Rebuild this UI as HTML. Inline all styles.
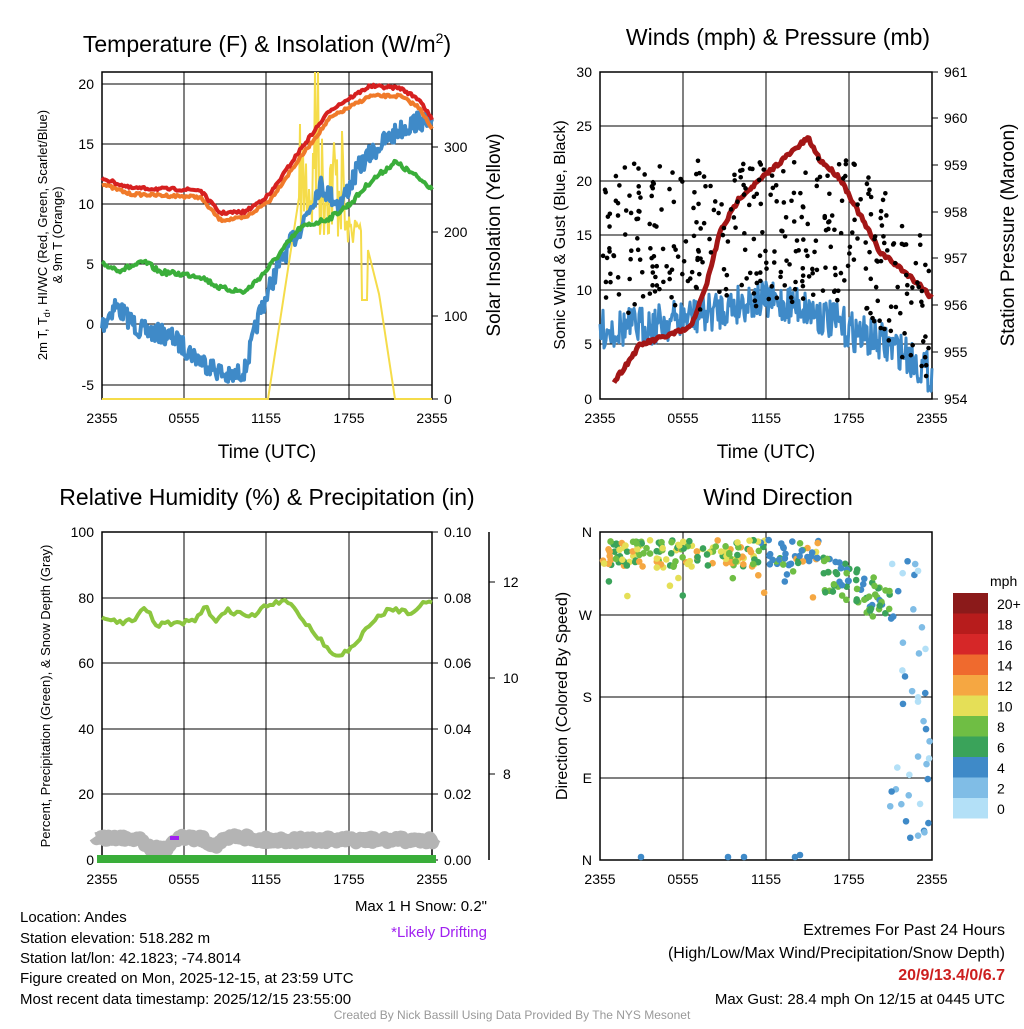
<!DOCTYPE html>
<html><head><meta charset="utf-8"><style>
body{margin:0;background:#fff;width:1024px;height:1024px;overflow:hidden}
svg text{font-family:"Liberation Sans",sans-serif;fill:#000}
</style></head><body>
<svg id="s" width="1024" height="1024" xmlns="http://www.w3.org/2000/svg">
<g id="g"></g>
<text x="267" y="52" font-size="23" text-anchor="middle">Temperature (F) &amp; Insolation (W/m<tspan dy="-9" font-size="14">2</tspan><tspan dy="9">)</tspan></text>
<text x="778" y="45" font-size="23" text-anchor="middle">Winds (mph) &amp; Pressure (mb)</text>
<text x="267" y="505" font-size="23" text-anchor="middle">Relative Humidity (%) &amp; Precipitation (in)</text>
<text x="778" y="505" font-size="23" text-anchor="middle">Wind Direction</text>
<text x="267" y="458" font-size="19" text-anchor="middle">Time (UTC)</text>
<text x="766" y="458" font-size="19" text-anchor="middle">Time (UTC)</text>
<text transform="translate(47,235) rotate(-90)" font-size="13" text-anchor="middle">2m T, T<tspan font-size="9" dy="3">d</tspan><tspan dy="-3">, HI/WC (Red, Green, Scarlet/Blue)</tspan></text>
<text transform="translate(62,235) rotate(-90)" font-size="13" text-anchor="middle">&amp; 9m T (Orange)</text>
<text transform="translate(500,235) rotate(-90)" font-size="19" text-anchor="middle">Solar Insolation (Yellow)</text>
<text transform="translate(565,235) rotate(-90)" font-size="16" text-anchor="middle">Sonic Wind &amp; Gust (Blue, Black)</text>
<text transform="translate(1014,235) rotate(-90)" font-size="19" text-anchor="middle">Station Pressure (Maroon)</text>
<text transform="translate(50,696) rotate(-90)" font-size="13" text-anchor="middle">Percent, Precipitation (Green), &amp; Snow Depth (Gray)</text>
<text transform="translate(567,696) rotate(-90)" font-size="16" text-anchor="middle">Direction (Colored By Speed)</text>
<text x="20" y="922" font-size="15">Location: Andes</text>
<text x="20" y="943" font-size="15">Station elevation: 518.282 m</text>
<text x="20" y="963" font-size="15">Station lat/lon: 42.1823; -74.8014</text>
<text x="20" y="983" font-size="15">Figure created on Mon, 2025-12-15, at 23:59 UTC</text>
<text x="20" y="1004" font-size="15">Most recent data timestamp: 2025/12/15 23:55:00</text>
<text x="487" y="911" font-size="15" text-anchor="end" fill="#333">Max 1 H Snow: 0.2"</text>
<text x="487" y="937" font-size="15" text-anchor="end" style="fill:#a020f0">*Likely Drifting</text>
<text x="1005" y="935" font-size="16" text-anchor="end">Extremes For Past 24 Hours</text>
<text x="1005" y="958" font-size="16" text-anchor="end">(High/Low/Max Wind/Precipitation/Snow Depth)</text>
<text x="1005" y="980" font-size="16" text-anchor="end" font-weight="bold" style="fill:#cc1f1f">20/9/13.4/0/6.7</text>
<text x="1005" y="1004" font-size="15" text-anchor="end">Max Gust: 28.4 mph On 12/15 at 0445 UTC</text>
<text x="512" y="1019" font-size="12" text-anchor="middle" style="fill:#999">Created By Nick Bassill Using Data Provided By The NYS Mesonet</text>
<text x="990" y="586" font-size="14">mph</text>
</svg>
<script>
var g=document.getElementById('g');var NS='http://www.w3.org/2000/svg';
function el(t,a){var e=document.createElementNS(NS,t);for(var k in a)e.setAttribute(k,a[k]);g.appendChild(e);return e;}
var seed=7;function r(){seed=(seed*16807)%2147483647;return seed/2147483647;}
function interp(k,x){for(var i=0;i<k.length-1;i++){if(x<=k[i+1][0]){var t=(x-k[i][0])/(k[i+1][0]-k[i][0]);return k[i][1]+t*(k[i+1][1]-k[i][1]);}}return k[k.length-1][1];}
function line(k,x0,x1,noise,col,w,step){var p=[];step=step||1.5;for(var x=x0;x<=x1;x+=step){p.push(x.toFixed(1)+','+(interp(k,x)+(r()-0.5)*noise).toFixed(1));}el('polyline',{points:p.join(' '),fill:'none',stroke:col,'stroke-width':w,'stroke-linejoin':'round'});}
function txt(x,y,s,a,sz){var e=el('text',{x:x,y:y,'font-size':sz||14,'text-anchor':a||'middle'});e.textContent=s;}
function frame(x0,x1,y0,y1,xt,yl,yr){
 xt.forEach(function(x){el('line',{x1:x,x2:x,y1:y0,y2:y1,stroke:'#000','stroke-width':1});});
 yl.forEach(function(y){el('line',{x1:x0,x2:x1,y1:y[0],y2:y[0],stroke:'#000','stroke-width':1});txt(x0-8,y[0]+5,y[1],'end');});
 if(yr)yr.forEach(function(y){el('line',{x1:x1,x2:x1+6,y1:y[0],y2:y[0],stroke:'#000'});txt(x1+12,y[0]+5,y[1],'start');});
 var L=['2355','0555','1155','1755','2355'];xt.forEach(function(x,i){txt(x,y1+24,L[i]);});
 el('rect',{x:x0,y:y0,width:x1-x0,height:y1-y0,fill:'none',stroke:'#000','stroke-width':1.5});}
frame(102,432,72,399,[102,184,266,349,432],[[84,'20'],[144,'15'],[204,'10'],[264,'5'],[324,'0'],[385,'-5']],[[399,'0'],[316,'100'],[232,'200'],[147,'300']]);
var yel=[];for(var x=102;x<=432;x+=1){var y=399;if(x>268&&x<300)y=399-(x-268)*6.5;else if(x>=300&&x<345)y=160+(r()-0.3)*120;else if(x>=345&&x<362)y=230+(r()-0.5)*30;else if(x>=362&&x<368)y=300;else if(x>=368&&x<380)y=250+(x-368)*4;else if(x>=380&&x<395)y=300+(x-380)*6.6;if(x>=314&&x<=320&&x%3==0)y=72;if(y<72)y=72;if(y>399)y=399;yel.push(x+','+y.toFixed(1));}
el('polyline',{points:yel.join(' '),fill:'none',stroke:'#f5dc4a','stroke-width':2});
line([[102,326],[115,305],[140,330],[170,336],[200,360],[230,378],[245,370],[260,312],[280,262],[300,228],[320,185],[340,205],[360,165],[380,145],[400,130],[420,120],[432,128]],102,432,20,'#3f8ac8',4,1);
line([[102,264],[120,270],[145,262],[160,272],[200,276],[220,288],[245,292],[265,272],[300,228],[330,218],[350,204],[370,182],[395,162],[410,172],[432,188]],102,432,5,'#3aae3a',4);
line([[102,184],[130,194],[200,197],[220,220],[245,218],[270,200],[300,158],[330,118],[370,96],[400,96],[420,108],[432,130]],102,432,3,'#f07a2a',4);
line([[102,178],[130,188],[200,190],[220,213],[245,212],[270,194],[300,150],[330,110],[370,86],[400,88],[420,100],[432,120]],102,432,3,'#d62020',4);
frame(600,932,72,399,[600,683,766,849,932],[[72,'30'],[126,'25'],[181,'20'],[235,'15'],[290,'10'],[344,'5'],[399,'0']],[[72,'961'],[118,'960'],[165,'959'],[212,'958'],[258,'957'],[305,'956'],[352,'955'],[399,'954']]);
line([[600,330],[650,325],[700,315],[750,300],[800,305],[850,330],[900,350],[932,375]],600,932,40,'#3f8ac8',3,1);
line([[614,382],[640,345],[690,328],[705,290],[720,232],[740,197],[760,180],[780,162],[800,145],[808,138],[820,160],[840,178],[860,215],[880,252],[900,268],[920,285],[932,298]],614,932,4,'#a31616',5);
for(var i=0;i<340;i++){var x=603+r()*327;var c=x<860?240-(x-600)*0.05:240+(x-860)*1.1;var y=c+(r()-0.5)*150;if(y<80)y=80+r()*40;if(y>396)y=396;el('circle',{cx:x,cy:y,r:2.3,fill:'#000'});}
frame(102,432,532,860,[102,184,266,349,432],[[532,'100'],[598,'80'],[663,'60'],[729,'40'],[794,'20'],[860,'0']],[[860,'0.00'],[794,'0.02'],[729,'0.04'],[663,'0.06'],[598,'0.08'],[532,'0.10']]);
el('line',{x1:489,x2:489,y1:532,y2:860,stroke:'#000','stroke-width':1.5});
[[582,'12'],[678,'10'],[774,'8']].forEach(function(a){el('line',{x1:489,x2:495,y1:a[0],y2:a[0],stroke:'#000'});txt(503,a[0]+5,a[1],'start');});
line([[95,838],[140,838],[150,848],[165,850],[175,838],[200,838],[215,845],[235,835],[260,840],[300,840],[350,840],[400,840],[436,840]],95,436,6,'#b4b4b4',13);
el('line',{x1:170,x2:179,y1:838,y2:838,stroke:'#a020f0','stroke-width':4});
el('line',{x1:97,x2:436,y1:859,y2:859,stroke:'#3aae3a','stroke-width':8});
line([[102,620],[135,622],[145,605],[155,625],[195,622],[205,607],[215,620],[230,610],[250,618],[270,604],[290,602],[300,615],[320,640],[337,657],[350,650],[370,625],[390,608],[410,612],[432,600]],102,432,6,'#8cc63f',4,3);
var names=['N','W','S','E','N'];[532,615,697,778,860].forEach(function(y,i){el('line',{x1:600,x2:932,y1:y,y2:y,stroke:'#000'});txt(592,y+5,names[i],'end');});
[600,683,766,849,932].forEach(function(x,i){el('line',{x1:x,x2:x,y1:532,y2:860,stroke:'#000'});txt(x,884,['2355','0555','1155','1755','2355'][i]);});
el('rect',{x:600,y:532,width:332,height:328,fill:'none',stroke:'#000','stroke-width':1.5});
var cols=['#b3e0f7','#80bde6','#3f8ac8','#3aa35a','#6fbe44','#e5df57','#f5a742','#ef6a2e','#d62728','#b71c1c','#8b1a1a'];
for(var i=0;i<320;i++){var x=603+r()*327,y,c;
 if(x<820){y=540+r()*28+(r()<0.05?30:0);c=cols[3+Math.floor(r()*4)];if(x>760&&r()<0.5)c=cols[2];}
 else if(x<890){y=570+(x-820)*0.5+(r()-0.5)*40;c=cols[3+Math.floor(r()*2)];if(r()<0.3)c=cols[2];}
 else{y=560+r()*290;c=cols[Math.floor(r()*3)];}
 el('circle',{cx:x,cy:y,r:3.3,fill:c});}
[[641,857],[728,857],[744,857],[795,857],[800,855]].forEach(function(p){el('circle',{cx:p[0],cy:p[1],r:3.3,fill:'#3f8ac8'});});
var lab=['0','2','4','6','8','10','12','14','16','18','20+'];
for(var i=0;i<11;i++){var y=798-i*20.5;el('rect',{x:953,y:y,width:35,height:20.5,fill:cols[i]});txt(997,y+16,lab[i],'start',14);}
</script>
</body></html>
